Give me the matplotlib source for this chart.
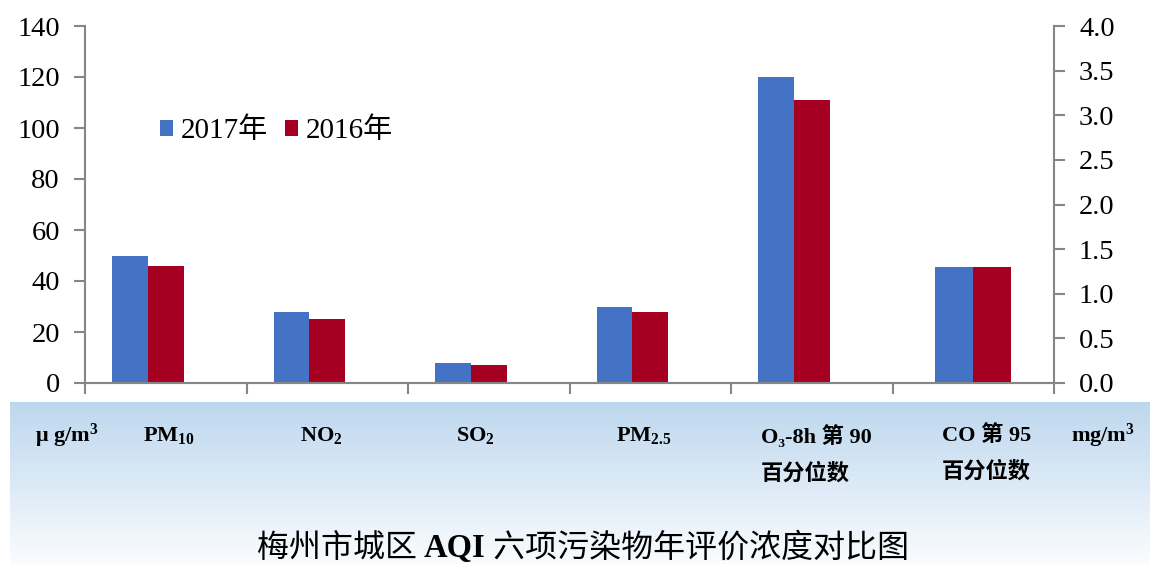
import matplotlib
matplotlib.use("Agg")
import matplotlib.pyplot as plt
import matplotlib.transforms as mtransforms
from matplotlib.offsetbox import TextArea, HPacker, AnchoredOffsetbox
import numpy as np

SERIF = ['Liberation Serif', 'Noto Sans CJK SC', 'DejaVu Sans']
CJK = ['Noto Sans CJK SC', 'DejaVu Sans']

plt.rcParams['font.family'] = SERIF
plt.rcParams['mathtext.fontset'] = 'custom'
plt.rcParams['mathtext.rm'] = 'Liberation Serif:bold'
plt.rcParams['mathtext.it'] = 'Liberation Serif:bold'
plt.rcParams['mathtext.bf'] = 'Liberation Serif:bold'
plt.rcParams['mathtext.default'] = 'rm'

# data (μg/m3 for the first five, mg/m3 for CO on the right axis)
categories = ['PM$_{10}$', 'NO$_2$', 'SO$_2$', 'PM$_{2.5}$', 'O₃-8h 第 90\n百分位数', 'CO 第 95\n百分位数']
val_2017 = [50, 28, 8, 30, 120]
val_2016 = [46, 25, 7, 28, 111]
co_2017 = 1.3
co_2016 = 1.3
series_names = ['2017年', '2016年']
left_ticks = [0, 20, 40, 60, 80, 100, 120, 140]
right_ticks = [0.0, 0.5, 1.0, 1.5, 2.0, 2.5, 3.0, 3.5, 4.0]

BLUE = '#4472C4'
RED = '#A50021'
GREY = '#868686'

fig = plt.figure(figsize=(11.5, 5.64), dpi=100)

# gradient band behind the category labels
band = fig.add_axes([10 / 1150, 0, 1140 / 1150, 162 / 564], zorder=0)
top = np.array([189, 215, 238]) / 255
bot = np.array([250, 252, 254]) / 255
t = np.linspace(0, 1, 256)[:, None]
grad = top[None, :] * (1 - t) + bot[None, :] * t
band.imshow(grad[:, None, :], aspect='auto', extent=[0, 1, 0, 1])
band.set_axis_off()

ax = fig.add_axes([85 / 1150, 1 - 383 / 564, 969 / 1150, 357 / 564], zorder=2)
ax.patch.set_alpha(0)
ax2 = ax.twinx()

x = np.arange(len(val_2017))
w = 0.22
shift = 0.11
b1 = ax.bar(x - shift - w / 2, val_2017, w, color=BLUE, label=series_names[0])
b2 = ax.bar(x - shift + w / 2, val_2016, w, color=RED, label=series_names[1])
wc = 0.235
ax2.bar(5 - wc / 2, co_2017, wc, color=BLUE)
ax2.bar(5 + wc / 2, co_2016, wc, color=RED)

ax.set_xlim(-0.5, 5.5)
ax.set_ylim(0, 140)
ax2.set_ylim(0, 4)
ax.set_yticks(left_ticks)
ax2.set_yticks(right_ticks)
ax2.set_yticklabels([f'{v:.1f}' for v in right_ticks])
ax.set_xticks(np.arange(-0.5, 6, 1))
ax.set_xticklabels([])

for a in (ax, ax2):
    a.spines['top'].set_visible(False)
    for s in ('left', 'right', 'bottom'):
        a.spines[s].set_color(GREY)
        a.spines[s].set_linewidth(1.5)
    a.tick_params(axis='both', direction='out', length=8, width=1.5, color=GREY)
    a.tick_params(axis='y', labelsize=20.5, pad=10)
ax2.spines['left'].set_visible(False)
ax.spines['right'].set_visible(False)

ax.legend(handles=[b1, b2], loc='center left',
          bbox_to_anchor=(160 / 1150, 1 - 131 / 564), bbox_transform=fig.transFigure,
          frameon=False, prop={'size': 21},
          handlelength=0.45, handleheight=0.45, handletextpad=0.25,
          columnspacing=0.6, ncol=2, borderpad=0, borderaxespad=0)

# category labels in the band
trans = mtransforms.blended_transform_factory(ax.transData, fig.transFigure)
label_x = [0.02, -0.04, -0.08, -0.04, 0.03, 0.08]
for i, lab in enumerate(categories):
    fig.text(i + label_x[i], 1 - 425 / 564, lab, transform=trans, ha='center', va='top',
             multialignment='left', fontsize=16, fontweight='bold',
             linespacing=1.95, zorder=3)
fig.text(67 / 1150, 1 - 436 / 564, 'μ g/m$^3$', ha='center', va='center',
         fontsize=16, fontweight='bold', zorder=3)
fig.text(1103 / 1150, 1 - 436 / 564, 'mg/m$^3$', ha='center', va='center',
         fontsize=16, fontweight='bold', zorder=3)

# title with bold serif AQI
parts = [TextArea('梅州市城区 ', textprops=dict(family=CJK, size=23)),
         TextArea('AQI', textprops=dict(size=23.5, weight='bold')),
         TextArea(' 六项污染物年评价浓度对比图', textprops=dict(family=CJK, size=23))]
box = HPacker(children=parts, align='baseline', pad=0, sep=0)
anc = AnchoredOffsetbox(loc='center', child=box, frameon=False, pad=0, borderpad=0,
                        bbox_to_anchor=(583 / 1150, 1 - 548 / 564),
                        bbox_transform=fig.transFigure)
fig.add_artist(anc)

fig.savefig('out.png', dpi=100)
